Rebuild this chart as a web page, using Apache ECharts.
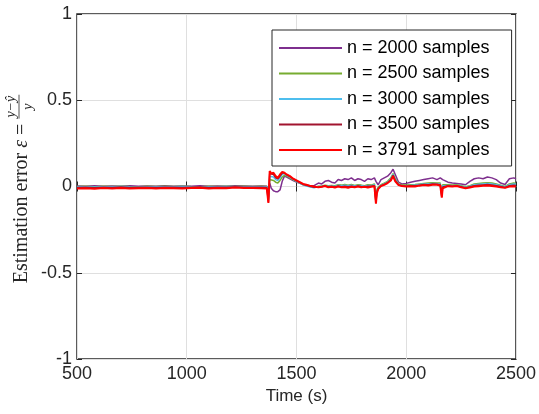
<!DOCTYPE html>
<html>
<head>
<meta charset="utf-8">
<script src="https://cdn.jsdelivr.net/npm/echarts@6/dist/echarts.min.js"></script>
<style>
  html, body { margin: 0; padding: 0; background: #fff; }
  #chart { width: 539px; height: 414px; }
</style>
</head>
<body>
<div id="chart"></div>
<script>
// time stamps (s) shared by every run
const times = [
  500, 540, 580, 620, 660, 700, 740, 780, 820, 860,
  900, 940, 980, 1020, 1060, 1100, 1140, 1180, 1220, 1260,
  1300, 1340, 1365, 1372, 1378, 1385, 1395, 1405, 1415, 1425,
  1435, 1445, 1455, 1470, 1485, 1500, 1515, 1530, 1545, 1560,
  1580, 1600, 1615, 1630, 1645, 1660, 1675, 1690, 1705, 1720,
  1735, 1750, 1765, 1780, 1795, 1810, 1825, 1840, 1855, 1862,
  1866, 1872, 1885, 1900, 1915, 1930, 1940, 1950, 1965, 1980,
  2000, 2020, 2040, 2060, 2080, 2100, 2120, 2140, 2155, 2162,
  2166, 2175, 2190, 2210, 2230, 2250, 2270, 2290, 2310, 2330,
  2350, 2370, 2390, 2410, 2430, 2450, 2470, 2490, 2500
];

const err2000 = [
  0.003, 0.002, 0.004, 0.002, 0.003, 0.001, 0.004, 0.002, 0.003, 0.002,
  0.004, 0.002, 0.003, 0.001, 0.004, 0.002, 0.003, 0.002, 0.004, 0.003,
  0.002, 0.003, 0.002, -0.06, 0.02, -0.01, -0.025, -0.03, -0.03, -0.02,
  0.03, 0.06, 0.055, 0.045, 0.035, 0.025, 0.02, 0.012, 0.008, 0.005,
  0.005, 0.02, 0.015, 0.03, 0.035, 0.025, 0.02, 0.04, 0.035, 0.045,
  0.04, 0.05, 0.035, 0.045, 0.04, 0.03, 0.045, 0.04, 0.05, 0.03,
  0.02, 0.01, 0.04, 0.05, 0.06, 0.08, 0.10, 0.07, 0.025, 0.015,
  0.018, 0.025, 0.03, 0.035, 0.04, 0.045, 0.05, 0.04, 0.05, 0.045,
  0.04, 0.03, 0.025, 0.02, 0.018, 0.015, 0.01, 0.03, 0.045, 0.05,
  0.045, 0.055, 0.05, 0.04, 0.02, 0.012, 0.045, 0.05, 0.045
];

const err2500 = [
  0.0, 0.001, -0.001, 0.001, 0.0, 0.002, 0.0, -0.001, 0.001, 0.0,
  0.001, 0.0, 0.002, 0.0, -0.001, 0.001, 0.0, 0.002, 0.0, 0.001,
  0.0, 0.001, 0.0, -0.07, 0.04, 0.03, 0.035, 0.025, 0.02, 0.035,
  0.055, 0.065, 0.06, 0.05, 0.038, 0.028, 0.02, 0.01, 0.005, 0.0,
  -0.005, 0.002, 0.003, 0.008, 0.005, 0.006, 0.004, 0.01, 0.008, 0.012,
  0.008, 0.012, 0.006, 0.01, 0.008, 0.005, 0.01, 0.008, 0.015, -0.08,
  -0.02, -0.005, 0.01, 0.02, 0.03, 0.05, 0.075, 0.045, 0.015, 0.01,
  0.008, 0.01, 0.012, 0.015, 0.018, 0.02, 0.022, 0.02, 0.02, -0.04,
  0.01, 0.01, 0.01, 0.008, 0.01, 0.005, -0.002, 0.005, 0.015, 0.018,
  0.02, 0.022, 0.02, 0.015, 0.008, 0.0, 0.015, 0.02, 0.018
];

const err3000 = [
  -0.002, -0.001, -0.003, -0.001, -0.002, 0.0, -0.002, -0.003, -0.001, -0.002,
  -0.001, -0.002, 0.0, -0.002, -0.003, -0.001, -0.002, 0.0, -0.002, -0.001,
  -0.002, -0.001, -0.002, -0.08, 0.06, 0.05, 0.055, 0.04, 0.035, 0.05,
  0.07, 0.075, 0.065, 0.055, 0.042, 0.03, 0.02, 0.01, 0.003, -0.002,
  -0.008, 0.0, 0.0, 0.005, 0.002, 0.003, 0.0, 0.007, 0.004, 0.008,
  0.004, 0.008, 0.003, 0.006, 0.004, 0.002, 0.006, 0.004, 0.01, -0.085,
  -0.03, -0.01, 0.006, 0.015, 0.025, 0.045, 0.07, 0.04, 0.012, 0.006,
  0.004, 0.006, 0.008, 0.011, 0.014, 0.015, 0.018, 0.016, 0.015, -0.05,
  0.004, 0.006, 0.006, 0.004, 0.006, 0.001, -0.005, 0.002, 0.01, 0.013,
  0.015, 0.017, 0.015, 0.01, 0.004, -0.003, 0.01, 0.015, 0.013
];

const err3500 = [
  -0.006, -0.005, -0.007, -0.004, -0.006, -0.003, -0.006, -0.005, -0.004, -0.006,
  -0.004, -0.005, -0.006, -0.004, -0.003, -0.006, -0.004, -0.005, -0.003, -0.004,
  -0.004, -0.005, -0.006, -0.09, 0.075, 0.065, 0.07, 0.05, 0.045, 0.06,
  0.078, 0.078, 0.068, 0.058, 0.044, 0.033, 0.023, 0.013, 0.007, 0.002,
  -0.004, -0.003, -0.001, 0.004, -0.002, 0.0, -0.003, 0.003, -0.001, 0.002,
  -0.002, 0.002, -0.001, 0.003, 0.0, -0.001, 0.002, 0.001, 0.005, -0.095,
  -0.035, -0.012, 0.004, 0.012, 0.022, 0.04, 0.065, 0.035, 0.01, 0.004,
  0.002, 0.004, 0.004, 0.008, 0.011, 0.01, 0.014, 0.013, 0.01, -0.06,
  -0.003, 0.003, 0.004, 0.002, 0.004, -0.002, -0.008, -0.002, 0.005, 0.007,
  0.009, 0.011, 0.009, 0.005, 0.0, -0.006, 0.005, 0.008, 0.006
];

const err3791 = [
  -0.012, -0.010, -0.013, -0.009, -0.011, -0.008, -0.012, -0.010, -0.009, -0.011,
  -0.008, -0.010, -0.012, -0.009, -0.007, -0.011, -0.008, -0.010, -0.006, -0.009,
  -0.008, -0.010, -0.012, -0.095, 0.09, 0.075, 0.08, 0.06, 0.05, 0.07,
  0.085, 0.08, 0.07, 0.06, 0.045, 0.035, 0.025, 0.015, 0.01, 0.005,
  0.0, -0.005, -0.002, 0.003, -0.004, -0.002, -0.006, 0.0, -0.005, -0.003,
  -0.007, -0.002, -0.005, 0.0, -0.004, -0.002, -0.006, -0.001, 0.002, -0.10,
  -0.04, -0.015, 0.002, 0.01, 0.02, 0.035, 0.06, 0.03, 0.008, 0.003,
  0.0, 0.002, 0.0, 0.005, 0.008, 0.006, 0.01, 0.01, 0.006, -0.065,
  -0.01, 0.0, 0.002, 0.0, 0.003, -0.004, -0.01, -0.006, 0.0, 0.002,
  0.004, 0.006, 0.003, 0.0, -0.004, -0.008, 0.0, 0.002, 0.0
];

const seriesNames = ['n = 2000 samples', 'n = 2500 samples', 'n = 3000 samples', 'n = 3500 samples', 'n = 3791 samples'];
const seriesValues = [err2000, err2500, err3000, err3500, err3791];
const seriesColors = ['#7E2F8E', '#77AC30', '#4DBEEE', '#A2142F', '#FF0000'];
const xTicks = { min: 500, max: 2500, step: 500 };
const yTicks = { min: -1, max: 1, step: 0.5 };

const ink = '#262626';
const sans = 'Liberation Sans';
const serif = 'Liberation Serif';

// measure text pieces for the rotated y label
const ctx = document.createElement('canvas').getContext('2d');
function textWidth(str, font) { ctx.font = font; return ctx.measureText(str).width; }

const fMain = '20px "' + serif + '"';
const fItal = 'italic 20px "' + serif + '"';
const fFrac = 'italic 14px "' + serif + '"';
const part1 = 'Estimation error ';
const part2 = '\u03b5';
const part3 = ' = ';
const num = 'y\u2212\u0177';
const den = 'y';
const w1 = textWidth(part1, fMain), w2 = textWidth(part2, fItal), w3 = textWidth(part3, fMain);
const wf = Math.max(textWidth(num, fFrac), textWidth(den, fFrac)) + 2;
const total = w1 + w2 + w3 + wf;
const x0 = -total / 2;

const chart = echarts.init(document.getElementById('chart'), null, { renderer: 'canvas' });

const hiddenAxis = {
  axisLabel: { show: false },
  axisLine: { show: false },
  splitLine: { show: false },
  axisTick: { inside: true, length: 5, lineStyle: { color: ink } }
};

chart.setOption({
  animation: false,
  backgroundColor: '#fff',
  grid: {
    left: 77, right: 22, top: 14, bottom: 55,
    show: true, borderColor: ink, borderWidth: 1.5, backgroundColor: 'transparent'
  },
  legend: {
    orient: 'vertical',
    left: 272, top: 30,
    icon: 'rect',
    itemWidth: 63, itemHeight: 2, itemGap: 7.5,
    padding: [9, 22, 7, 7],
    borderColor: ink, borderWidth: 1, backgroundColor: '#fff',
    textStyle: { fontFamily: sans, fontSize: 18, color: '#000', lineHeight: 18 },
    data: seriesNames
  },
  xAxis: [{
    type: 'value', min: xTicks.min, max: xTicks.max, interval: xTicks.step,
    name: 'Time (s)', nameLocation: 'middle', nameGap: 28,
    nameTextStyle: { fontFamily: sans, fontSize: 17, color: ink },
    axisLine: { show: false },
    axisTick: { inside: true, length: 5, lineStyle: { color: ink } },
    axisLabel: { fontFamily: sans, fontSize: 18, color: ink, margin: 6, formatter: v => String(v) },
    splitLine: { show: true, lineStyle: { color: '#DFDFDF', width: 1 } }
  }, Object.assign({ type: 'value', position: 'top', min: xTicks.min, max: xTicks.max, interval: xTicks.step }, hiddenAxis)],
  yAxis: [{
    type: 'value', min: yTicks.min, max: yTicks.max, interval: yTicks.step,
    axisLine: { show: false },
    axisTick: { inside: true, length: 5, lineStyle: { color: ink } },
    axisLabel: { fontFamily: sans, fontSize: 18, color: ink, margin: 5, formatter: v => String(v) },
    splitLine: { show: true, lineStyle: { color: '#DFDFDF', width: 1 } }
  }, Object.assign({ type: 'value', position: 'right', min: yTicks.min, max: yTicks.max, interval: yTicks.step }, hiddenAxis)],
  graphic: [{
    type: 'group',
    x: 22, y: 189,
    rotation: Math.PI / 2,
    children: [
      { type: 'text', x: x0, y: 0, style: { text: part1, font: fMain, fill: ink, textAlign: 'left', textVerticalAlign: 'middle' } },
      { type: 'text', x: x0 + w1, y: 0, style: { text: part2, font: fItal, fill: ink, textAlign: 'left', textVerticalAlign: 'middle' } },
      { type: 'text', x: x0 + w1 + w2, y: 0, style: { text: part3, font: fMain, fill: ink, textAlign: 'left', textVerticalAlign: 'middle' } },
      { type: 'text', x: x0 + w1 + w2 + w3 + wf / 2, y: -4, style: { text: num, font: fFrac, fill: ink, textAlign: 'center', textVerticalAlign: 'bottom' } },
      { type: 'line', shape: { x1: x0 + w1 + w2 + w3, y1: -3, x2: x0 + total, y2: -3 }, style: { stroke: ink, lineWidth: 0.8 } },
      { type: 'text', x: x0 + w1 + w2 + w3 + wf / 2, y: -1, style: { text: den, font: fFrac, fill: ink, textAlign: 'center', textVerticalAlign: 'top' } }
    ]
  }],
  series: seriesNames.map((name, i) => ({
    name: name,
    type: 'line',
    symbol: 'none',
    color: seriesColors[i],
    lineStyle: { width: i === 4 ? 2 : 1.5, color: seriesColors[i] },
    data: times.map((t, k) => [t, seriesValues[i][k]]),
    z: 2 + i
  }))
});
</script>
</body>
</html>
